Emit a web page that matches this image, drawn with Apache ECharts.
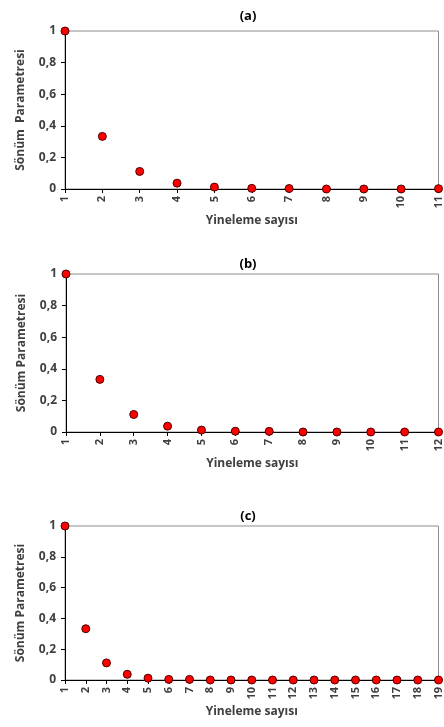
<!DOCTYPE html>
<html>
<head>
<meta charset="utf-8">
<script src="https://cdn.jsdelivr.net/npm/echarts@6/dist/echarts.min.js"></script>
<style>
html, body { margin: 0; padding: 0; background: #fff; }
#chart { width: 444px; height: 727px; }
</style>
</head>
<body>
<div id="chart"></div>
<script>
// yineleme sayilari (x kategorileri)
let iterA = ['1','2','3','4','5','6','7','8','9','10','11']
let iterB = ['1','2','3','4','5','6','7','8','9','10','11','12']
let iterC = ['1','2','3','4','5','6','7','8','9','10','11','12','13','14','15','16','17','18','19']
// sonum parametresi degerleri
let valuesA = [1, 0.333, 0.111, 0.037, 0.012, 0.004, 0.003, 0, 0, 0, 0.002]
let valuesB = [1, 0.333, 0.111, 0.037, 0.012, 0.005, 0.004, 0, 0, 0, 0, 0]
let valuesC = [1, 0.333, 0.111, 0.037, 0.012, 0.004, 0.004, 0, 0, 0, 0, 0, 0, 0, 0, 0, 0, 0, 0]
let titles = ['(a)', '(b)', '(c)']
let yNames = ['Sönüm  Parametresi', 'Sönüm Parametresi', 'Sönüm Parametresi']
let xName = 'Yineleme sayısı'

let font = 'Open Sans'
let labelColor = '#404040'

let grids = [
    { left: 65, top: 31, width: 376, height: 158 },
    { left: 66, top: 274, width: 376, height: 158 },
    { left: 65, top: 526, width: 376, height: 154 }
]
let titleTops = [5, 253, 505]
let cats = [iterA, iterB, iterC]
let vals = [valuesA, valuesB, valuesC]

let option = {
    animation: false,
    title: titles.map((t, i) => ({
        text: t,
        left: 243,
        top: titleTops[i],
        textAlign: 'center',
        textStyle: { fontFamily: font, fontSize: 13, fontWeight: 'bold', color: '#000' }
    })),
    grid: grids.map(g => Object.assign({
        show: true,
        borderColor: '#8c8c8c',
        borderWidth: 1,
        backgroundColor: 'transparent'
    }, g)),
    xAxis: cats.map((c, i) => ({
        type: 'category',
        gridIndex: i,
        data: c,
        boundaryGap: false,
        name: xName,
        nameLocation: 'middle',
        nameGap: 26,
        nameTextStyle: { fontFamily: font, fontSize: 12, fontWeight: 'bold', color: labelColor },
        axisLine: { lineStyle: { color: '#000', width: 1 } },
        axisTick: { show: true, length: 4, alignWithLabel: true, lineStyle: { color: '#000' } },
        axisLabel: {
            rotate: 90,
            margin: 7,
            interval: 0,
            fontFamily: font,
            fontSize: 11,
            fontWeight: 'bold',
            color: labelColor
        },
        splitLine: { show: false }
    })),
    yAxis: cats.map((c, i) => ({
        type: 'value',
        gridIndex: i,
        min: 0,
        max: 1,
        interval: 0.2,
        name: yNames[i],
        nameLocation: 'middle',
        nameGap: 38,
        nameTextStyle: { fontFamily: font, fontSize: 12, fontWeight: 'bold', color: labelColor },
        axisLine: { show: true, lineStyle: { color: '#000', width: 1 } },
        axisTick: { show: true, length: 4, lineStyle: { color: '#000' } },
        axisLabel: {
            margin: 9,
            fontFamily: font,
            fontSize: 12,
            fontWeight: 'bold',
            color: labelColor,
            formatter: v => String(Math.round(v * 10) / 10).replace('.', ',')
        },
        splitLine: { show: false }
    })),
    series: vals.map((v, i) => ({
        type: 'scatter',
        xAxisIndex: i,
        yAxisIndex: i,
        data: v,
        symbol: 'circle',
        symbolSize: 8,
        clip: false,
        itemStyle: { color: '#ff0000', opacity: 1, borderColor: '#4a0000', borderWidth: 1 }
    }))
}

let chart = echarts.init(document.getElementById('chart'))
chart.setOption(option)
</script>
</body>
</html>
